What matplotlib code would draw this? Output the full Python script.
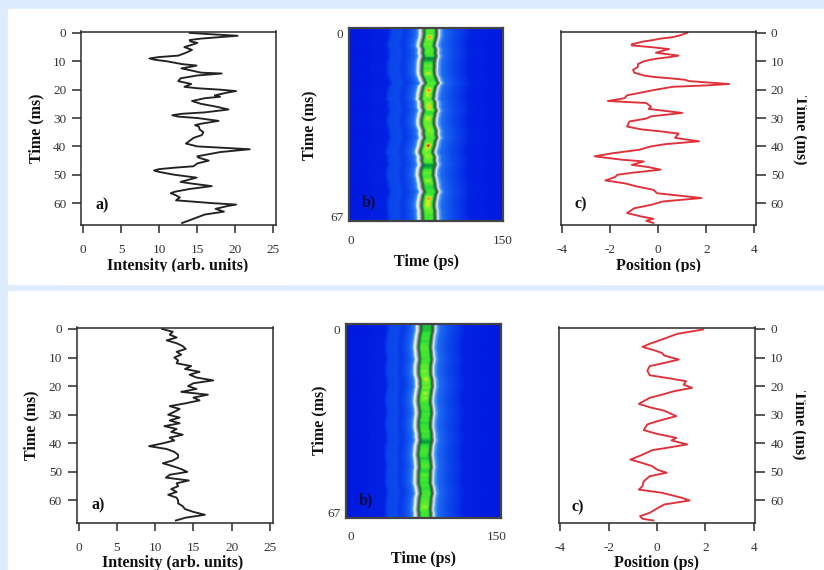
import numpy as np
import matplotlib
matplotlib.use("Agg")
import matplotlib.pyplot as plt
from matplotlib.colors import LinearSegmentedColormap
from matplotlib.patches import Rectangle

W, H = 824, 570
plt.rcParams['font.family'] = ['Liberation Serif', 'DejaVu Serif']
plt.rcParams['axes.unicode_minus'] = False

# top row: intensity (panel a) and position (panel c) against time in ms
top_a_t = [0, 0.5, 1, 2, 2.5, 3, 3.5, 4, 5, 6, 7, 8, 8.5, 9, 9.5, 10, 11, 11.5, 12, 12.5, 13, 14, 14.3, 15, 16, 17, 18, 19,
           19.5, 20, 20.5, 21, 22, 22.5, 23, 24, 25, 26, 27, 28, 28.5, 29, 29.5, 30, 31, 32, 32.5, 33, 34, 35, 36, 37, 38,
           39, 40, 41, 42, 43, 43.5, 44, 45, 46, 47, 47.5, 48, 48.5, 49, 50, 51, 52, 52.5, 53, 54, 55, 56, 56.5, 57, 58,
           59, 60, 60.5, 61, 62, 63, 64, 65, 66, 67]
top_a_i = [14, 17, 20.3, 15.5, 14, 14.1, 15, 14.5, 13.3, 14.3, 13.5, 12.5, 10, 8.7, 9.5, 11, 13, 14.9, 14, 12.9, 13.8, 15.5, 18.2, 15,
           12.8, 12.5, 14.2, 13.3, 15, 18, 20.1, 19, 17.3, 18, 16, 14.3, 15.5, 17.5, 19.1, 16, 13, 11.7, 12.5, 15, 17.8, 15.5,
           14.7, 15.2, 15.3, 15.8, 15.6, 14.5, 14, 13.5, 15, 21.9, 18, 16, 15, 15.2, 16.5, 15, 14.5, 12, 10, 9.3, 10, 12, 14.9,
           13.5, 12.8, 14, 16.9, 14, 12, 11.5, 12, 12.7, 12.2, 17, 20.1, 19, 17.4, 18.5, 16, 15, 14, 13]
top_c_t = [0, 1, 1.5, 2, 2.5, 3, 4, 4.4, 5, 5.7, 6, 7, 7.4, 8, 8.5, 9, 9.5, 10, 11, 12, 13, 14, 15, 15.5, 16, 16.5, 17, 18, 18.5,
           19, 20, 21, 22, 23, 24, 24.7, 26, 26.8, 28.2, 29.4, 30.2, 31.2, 33, 34, 34.7, 35.5, 37, 38.2, 39.2, 40, 41.2, 42.4,
           43.5, 44.7, 45.3, 46.5, 47.3, 48.2, 49.2, 50, 50.8, 52, 53, 54.1, 55.3, 56.5, 57, 58.2, 59.4, 60.6, 61.8, 63.5, 64.7,
           65.5, 66.2, 67]
top_c_p = [1.2, 0.85, 0.6, 0.1, -0.2, -0.6, -1.1, -1.1, -0.3, 0.45, 0.3, -0.1, 0.3, 0.85, 0.5, 0, -0.35, -0.6, -0.85, -0.85, -1.05, -1,
           -0.6, -0.2, 0.5, 1.1, 1.3, 2.95, 2.0, 0.6, -0.1, -0.7, -1.3, -1.4, -2.1, -0.5, -0.3, -0.4, 1.0, -0.3, -0.5, -1.2, -1.3,
           -0.7, 0.1, 0.85, 0.7, 1.7, 0.3, -0.3, -0.8, -1.9, -2.65, -1.5, -0.6, -1.1, -0.4, 0.1, -1.0, -1.7, -1.8, -2.2, -1.4, -0.9,
           -0.2, -0.05, 0.5, 1.8, 0.2, -0.3, -1, -1.3, -0.7, -0.2, -0.5, -0.2]

# bottom row
bot_a_t = list(range(68))
bot_a_i = [10.9, 12.3, 11.9, 12.8, 11.5, 12.8, 13.6, 14, 12.8, 13.4, 12.5, 13, 12.8, 14.7, 13.9, 15.8, 14.5, 15.4, 17.6, 15, 14.3,
           15.4, 13.4, 16.9, 15, 15.8, 14, 11.9, 13.2, 12.5, 11.7, 13.2, 11.9, 13.2, 11.2, 12.8, 12.1, 13.6, 11.9, 12.5, 11,
           9.2, 11.5, 12.5, 13, 13, 12.3, 11, 12.3, 13.4, 14.2, 11.9, 11.4, 14.4, 12.8, 13, 12.1, 12.8, 11.7, 12.8, 13, 13,
           13.6, 13.9, 15, 16.5, 14, 12.7]
bot_c_t = [0.2, 1.7, 3.7, 5.2, 6.3, 7.5, 8.4, 9.3, 10.7, 11.9, 13, 14.6, 16.2, 17.4, 18.3, 19.5, 20.6, 21.8, 23, 24.1, 26.2, 27.4,
           28.6, 30.5, 32.3, 33.4, 35.4, 36.7, 38.1, 39, 40.4, 41.6, 42.4, 44, 45.7, 46.9, 48, 49.2, 50.3, 51.5, 53.3, 55, 56.2,
           57.3, 59, 60, 61.4, 62.8, 64.3, 65.5, 66.4, 67]
bot_c_p = [1.9, 0.85, 0.2, -0.3, -0.6, -0.1, 0.2, 0.3, 0.9, 0.3, -0.3, -0.4, -0.3, 0.6, 1.2, 1.1, 1.45, 0.7, 0.2, -0.3, -0.75, -0.3,
           0.3, 0.8, 0, -0.4, -0.55, 0, 0.8, 0.6, 1.25, 0.4, -0.2, -0.6, -1.1, -0.6, -0.2, 0, 0.4, -0.3, -0.55, -0.6, -0.75, 0.2,
           1.0, 1.35, 0.3, 0, -0.3, -0.7, -0.6, -0.15]

# cross section of the streak image: offset from pulse centre (ps) and colour level
prof_off = [-80, -42, -38, -30, -25, -20, -15, -12.5, -11, -9.5, -7.5, -6, 6, 7.5, 9, 10.5, 14, 22, 34, 40, 80]
prof_lvl = [0, 0.02, 0.1, 0.11, 0.07, 0.11, 0.16, 0.24, 0.38, 0.43, 0.48, 0.53, 0.53, 0.48, 0.43, 0.3, 0.17, 0.12, 0.06, 0.02, 0]
int_pts = [8, 10, 12, 15, 18, 20, 22]
lvl_pts = [0.54, 0.6, 0.66, 0.7, 0.8, 0.9, 1.0]

cmap_stops = [(0, (0, 25, 225)), (.1, (10, 70, 235)), (.2, (40, 120, 245)), (.3, (90, 170, 250)), (.38, (200, 225, 250)),
              (.42, (245, 250, 250)), (.47, (150, 155, 150)), (.52, (60, 80, 60)), (.58, (0, 150, 60)), (.66, (50, 225, 50)),
              (.72, (130, 240, 40)), (.8, (240, 230, 30)), (.9, (235, 70, 20)), (1, (90, 0, 0))]
streak_cmap = LinearSegmentedColormap.from_list(
    "streak", [(s, tuple(c / 255 for c in rgb)) for s, rgb in cmap_stops])

DARK = "#2a2a2a"
GREY = "#444444"


def px_axes(fig, x0, y0, x1, y1):
    return fig.add_axes([x0 / W, 1 - y1 / H, (x1 - x0) / W, (y1 - y0) / H])


def px_text(fig, x, y, s, **kw):
    kw.setdefault("ha", "center")
    kw.setdefault("va", "center")
    kw.setdefault("fontweight", "bold")
    kw.setdefault("color", "#111111")
    return fig.text(x / W, 1 - y / H, s, **kw)


def style(ax, tick_len=6):
    for s in ax.spines.values():
        s.set_color(DARK)
        s.set_linewidth(1.1)
    ax.tick_params(axis="both", length=tick_len, width=1.1, color=DARK, labelsize=9.5, labelcolor="#333333")


def line_panel(fig, box, t, v, color, xlim, xticks, right=False):
    ax = px_axes(fig, *box)
    ax.plot(v, t, color=color, lw=1.35, solid_joinstyle="round")
    ax.set_xlim(*xlim)
    ax.set_ylim(67.7, -0.5)
    ax.set_xticks(xticks)
    ax.set_yticks(range(0, 70, 10))
    style(ax)
    ax.tick_params(axis="x", pad=8)
    if right:
        ax.yaxis.tick_right()
        ax.tick_params(axis="y", length=7.5, pad=3.5)
    else:
        ax.tick_params(axis="y", length=6.5, pad=4)
    return ax


def streak_panel(fig, box, xlim, ylim, centre, a_t, a_i, c_t, c_p):
    ax = px_axes(fig, *box)
    rows = np.linspace(ylim[1], ylim[0], 260)
    cols = np.linspace(xlim[0], xlim[1], 300)
    intensity = np.interp(rows, a_t, a_i)
    position = np.interp(rows, c_t, c_p)
    peak = np.interp(intensity, int_pts, lvl_pts)
    img = np.zeros((rows.size, cols.size))
    for i in range(rows.size):
        off = cols - centre - position[i]
        core = np.interp(np.abs(off), [0, 3.5, 6], [1, 1, 0])
        spot = np.interp(np.abs(off), [0, 1, 3], [1, 0.8, 0])
        img[i] = (np.interp(off, prof_off, prof_lvl) + (min(peak[i], 0.7) - 0.53) * core
                  + max(peak[i] - 0.7, 0) * spot)
    ax.imshow(img, cmap=streak_cmap, vmin=0, vmax=1, aspect="auto", interpolation="bilinear",
              extent=[xlim[0], xlim[1], ylim[0], ylim[1]])
    ax.set_xlim(*xlim)
    ax.set_ylim(*ylim)
    ax.set_xticks([0, 150])
    ax.set_yticks([0, 67])
    style(ax, 0)
    for s in ax.spines.values():
        s.set_color(GREY)
        s.set_linewidth(1.6)
    ax.tick_params(axis="x", pad=10)
    ax.tick_params(axis="y", pad=4)
    return ax


fig = plt.figure(figsize=(W / 100, H / 100), dpi=100, facecolor="#dcebfd")
fig.patches.append(Rectangle((8 / W, 1 - 284 / H), (W - 8) / W, 275 / H, transform=fig.transFigure, color="white", zorder=-5))
fig.patches.append(Rectangle((8 / W, 0), (W - 8) / W, 1 - 291 / H, transform=fig.transFigure, color="white", zorder=-5))

# top row
line_panel(fig, (81, 31.5, 276, 225), top_a_t, top_a_i, "#222222", (-0.3, 25.35), range(0, 30, 5))
streak_panel(fig, (349, 28, 503, 221), (-2, 150), (68.8, -2.2), 77, top_a_t, top_a_i, top_c_t, top_c_p)
line_panel(fig, (561, 31.5, 755.5, 225), top_c_t, top_c_p, "#e0303a", (-4.05, 4.05), range(-4, 6, 2), right=True)

# bottom row
line_panel(fig, (76.5, 327.5, 272.5, 522.5), bot_a_t, bot_a_i, "#222222", (-0.3, 25.35), range(0, 30, 5))
streak_panel(fig, (346, 323.5, 501, 517.5), (-5.1, 154), (68.8, -2.2), 76, bot_a_t, bot_a_i, bot_c_t, bot_c_p)
line_panel(fig, (559, 327.5, 755, 522.5), bot_c_t, bot_c_p, "#e0303a", (-4.05, 4.05), range(-4, 6, 2), right=True)

# axis titles and panel letters
FS = 11.5
px_text(fig, 36, 128, "Time (ms)", rotation=90, fontsize=FS)
px_text(fig, 178, 266, "Intensity (arb. units)", fontsize=FS)
px_text(fig, 102, 205, "a)", fontsize=FS)
px_text(fig, 309, 125, "Time (ms)", rotation=90, fontsize=FS)
px_text(fig, 426, 262, "Time (ps)", fontsize=FS)
px_text(fig, 369, 202, "b)", fontsize=FS, color="#0a0a40")
px_text(fig, 658, 266, "Position (ps)", fontsize=FS)
px_text(fig, 801, 130, "Time (ms)", rotation=270, fontsize=FS)
px_text(fig, 581, 204, "c)", fontsize=FS)

px_text(fig, 31, 425, "Time (ms)", rotation=90, fontsize=FS)
px_text(fig, 173, 563, "Intensity (arb. units)", fontsize=FS)
px_text(fig, 98, 505, "a)", fontsize=FS)
px_text(fig, 319, 420, "Time (ms)", rotation=90, fontsize=FS)
px_text(fig, 423, 559, "Time (ps)", fontsize=FS)
px_text(fig, 366, 500, "b)", fontsize=FS, color="#0a0a40")
px_text(fig, 657, 563, "Position (ps)", fontsize=FS)
px_text(fig, 800, 425, "Time (ms)", rotation=270, fontsize=FS)
px_text(fig, 578, 507, "c)", fontsize=FS)

# the source scan cuts off some of the titles
for x0, y0, x1, y1 in [(60, 272, 290, 284), (600, 272, 720, 284), (807, 90, 816, 170), (806, 385, 815, 465)]:
    fig.patches.append(Rectangle((x0 / W, 1 - y1 / H), (x1 - x0) / W, (y1 - y0) / H, transform=fig.transFigure,
                                 color="white", zorder=10))

fig.savefig("out.png", dpi=100, facecolor=fig.get_facecolor())
